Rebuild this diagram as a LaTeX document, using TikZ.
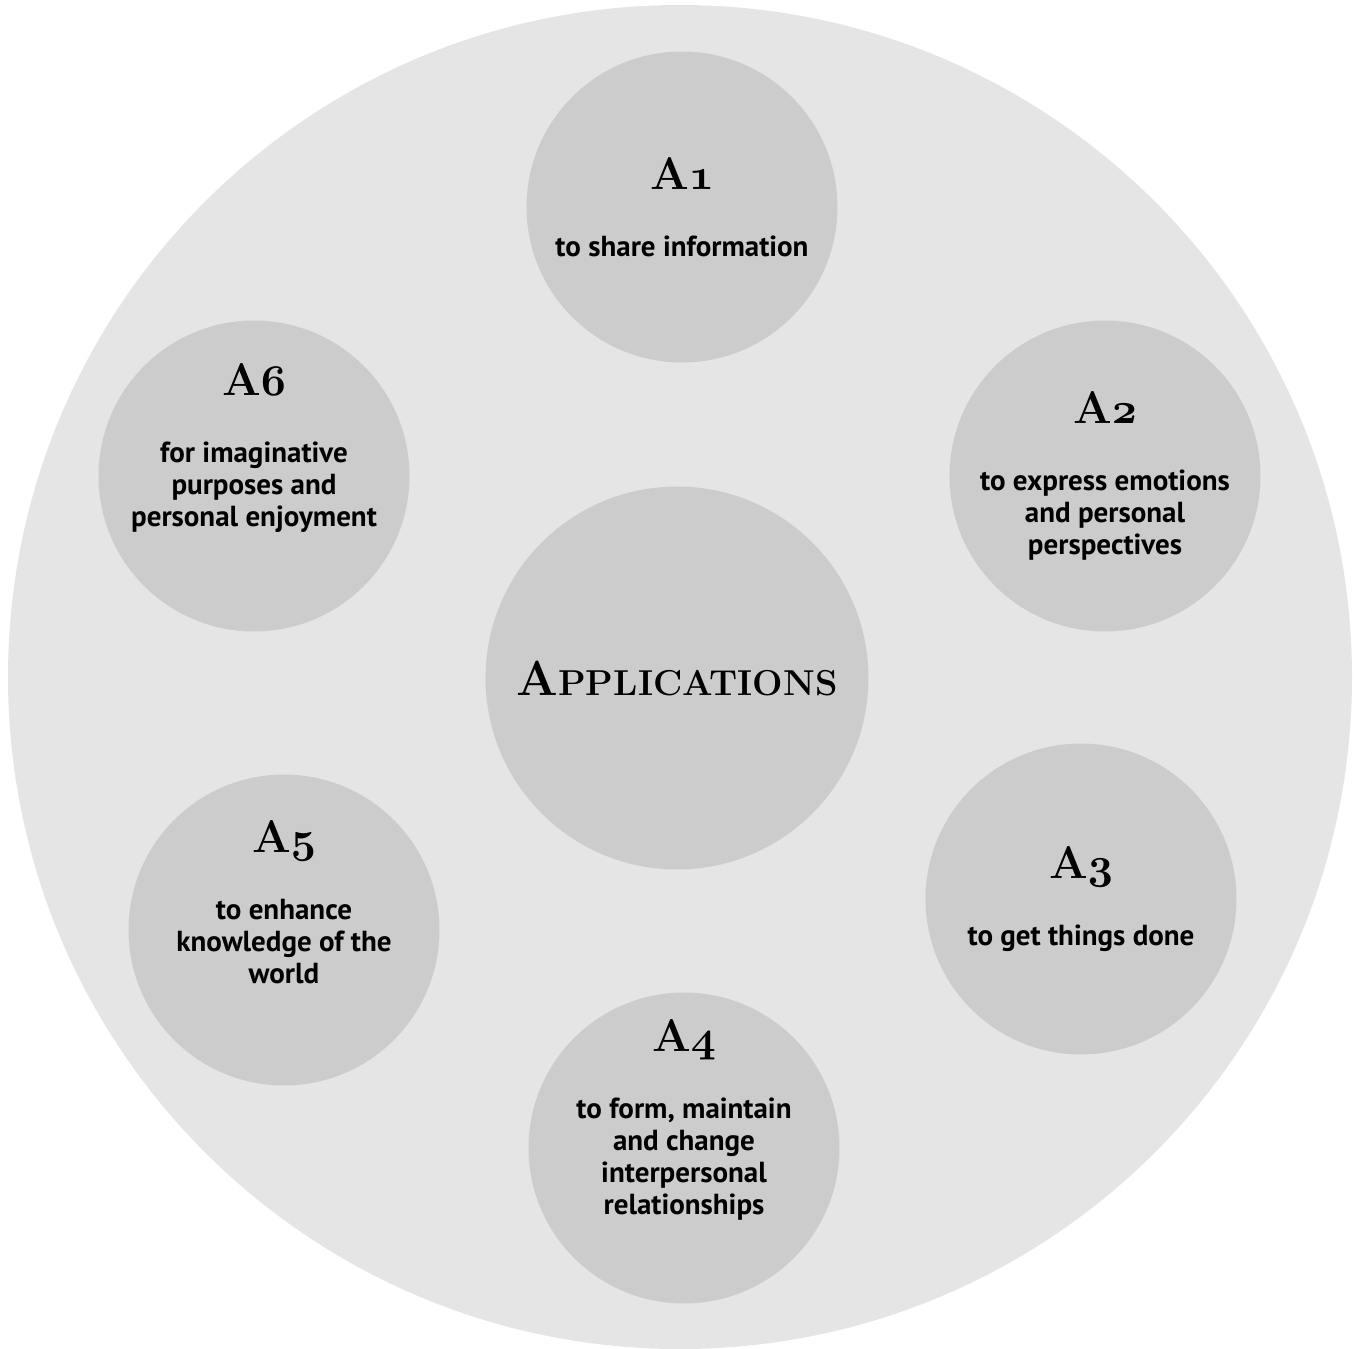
\documentclass[tikz,border=0pt]{standalone}
\usepackage{fontspec}
\setsansfont{PT Sans}
\usepackage{tikz}

\newcommand{\fnum}[1]{{\rmfamily\bfseries\fontsize{26}{30}\selectfont A{\usefont{OML}{cmm}{b}{it}#1}}}
\newcommand{\ftext}{\sffamily\bfseries\fontsize{16.5}{18.2}\selectfont}

\begin{document}
\begin{tikzpicture}[x=0.02cm, y=-0.02cm,
  app/.style = {circle, fill=gray!40, inner sep=0pt, minimum size=6.22cm},
  apptext/.style = {align=center, inner sep=0pt, font=\ftext}]
\useasboundingbox (0,0) rectangle (1357,1349);
\fill [gray!20] (680,677) circle [radius=672];

\node [app, minimum size=7.66cm, font=\rmfamily\bfseries] (apps) at (677,678)
  {{\fontsize{28}{32}\selectfont A}{\fontsize{20.5}{32}\selectfont PPLICATIONS}};

\node [app] (a1) at (682,207) {};
\node [app] (a2) at (1105,476) {};
\node [app] (a3) at (1081,899) {};
\node [app] (a4) at (684,1148) {};
\node [app] (a5) at (284,930) {};
\node [app] (a6) at (254,476) {};

\node [apptext] (t1) at (a1) {\fnum{1}\\[20pt] to share information};
\node [apptext] (t2) at (a2) {\fnum{2}\\[20pt] to express emotions\\ and personal\\ perspectives};
\node [apptext] (t3) at (a3) {\fnum{3}\\[20pt] to get things done};
\node [apptext] (t4) at ([yshift=16pt]a4) {\fnum{4}\\[20pt] to form, maintain\\ and change\\ interpersonal\\ relationships};
\node [apptext] (t5) at ([yshift=16pt]a5) {\fnum{5}\\[20pt] to enhance\\ knowledge of the\\ world};
\node [apptext] (t6) at ([yshift=16pt]a6) {\fnum{6}\\[20pt] for imaginative\\ purposes and\\ personal enjoyment};
\end{tikzpicture}
\end{document}
